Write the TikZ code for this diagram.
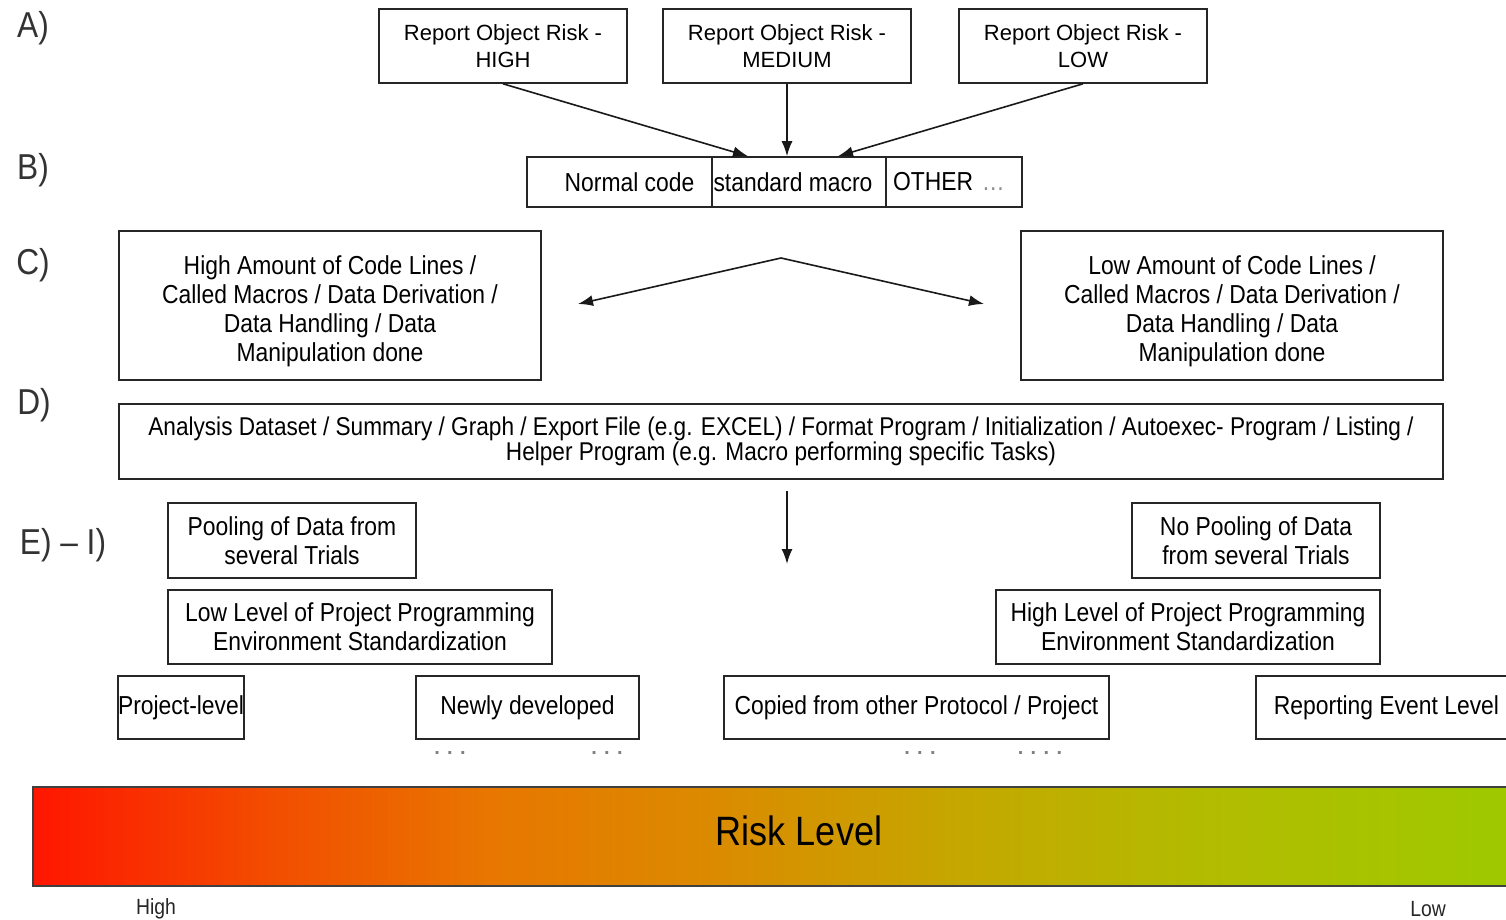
\documentclass[tikz,border=0pt]{standalone}
\usepackage{fontspec}
\setmainfont{Liberation Sans}
\newfontfamily\narrowfont{Liberation Sans}[FakeStretch=0.88]
\usetikzlibrary{arrows.meta,calc}
\definecolor{rk0}{RGB}{255,22,0}
\definecolor{rk1}{RGB}{242,78,0}
\definecolor{rk2}{RGB}{232,118,0}
\definecolor{rk3}{RGB}{218,140,0}
\definecolor{rk4}{RGB}{196,168,0}
\definecolor{rk5}{RGB}{178,188,0}
\definecolor{rk6}{RGB}{160,200,0}
\pgfdeclarehorizontalshading{riskshade}{100bp}{color(0bp)=(rk0); color(25bp)=(rk0); color(33bp)=(rk1); color(40bp)=(rk2); color(48bp)=(rk3); color(56bp)=(rk4); color(64bp)=(rk5); color(73bp)=(rk6); color(100bp)=(rk6)}
\tikzset{
  box/.style={draw=black!85, line width=1.6pt, inner sep=0pt, align=center, fill=white},
  atext/.style={font=\fontsize{22pt}{27pt}\selectfont},
  ntext/.style={font=\narrowfont\fontsize{26pt}{29pt}\selectfont},
  dtext/.style={font=\narrowfont\fontsize{25.7pt}{21pt}\selectfont},
  lbl/.style={font=\narrowfont\fontsize{36pt}{40pt}\selectfont, text=black!80, inner sep=0pt},
  dots/.style={font=\bfseries\fontsize{20pt}{20pt}\selectfont, text=black!50, inner sep=0pt},
  arr/.style={-{Latex[length=15pt,width=11pt]}, line width=1.6pt, draw=black!90},
}
\begin{document}
\begin{tikzpicture}[x=1pt,y=-1pt]
\useasboundingbox (0,0) rectangle (1506,920);
\fill[white] (0,0) rectangle (1506,920);

% section labels
\node[lbl] (la) at (33,28) {A)};
\node[lbl] (lb) at (33,170) {B)};
\node[lbl] (lc) at (33,265) {C)};
\node[lbl] (ld) at (34,405) {D)};
\node[lbl] (le) at (63,545) {E) – I)};

% A
\node[box, atext, minimum width=248pt, minimum height=74pt] (high) at (503,46) {Report Object Risk -\\HIGH};
\node[box, atext, minimum width=248pt, minimum height=74pt] (med) at (787,46) {Report Object Risk -\\MEDIUM};
\node[box, atext, minimum width=248pt, minimum height=74pt] (low) at (1083,46) {Report Object Risk -\\LOW};

% B
\node[box, ntext, minimum width=185pt, minimum height=50pt] (nc) at (619.5,182) {\hspace*{20pt}Normal code};
\node[box, ntext, minimum width=174pt, minimum height=50pt] (sm) at (799,182) {standard macro\hspace*{12pt}};
\node[box, ntext, minimum height=50pt, text width=122pt, inner xsep=7pt, align=left] (ot) at (954,182) {OTHER {\color{black!45}\ldots}};

\draw[arr] (high.south) -- ([xshift=-51pt]sm.north);
\draw[arr] (med.south) -- (med.south |- sm.north);
\draw[arr] (low.south) -- ([xshift=39pt]sm.north);

% C
\node[box, ntext, minimum width=422pt, minimum height=149pt] (chigh) at (330,305.5) {\rule{0pt}{30pt}High Amount of Code Lines /\\Called Macros / Data Derivation /\\Data Handling / Data\\Manipulation done};
\node[box, ntext, minimum width=422pt, minimum height=149pt] (clow) at (1232,305.5) {\rule{0pt}{30pt}Low Amount of Code Lines /\\Called Macros / Data Derivation /\\Data Handling / Data\\Manipulation done};
\coordinate (apex) at (781,258);
\coordinate (cl) at (578,304);
\coordinate (cr) at (984,304);
\draw[arr] (apex) -- (cl);
\draw[arr] (apex) -- (cr);

% D
\node[box, dtext, minimum width=1324pt, minimum height=75pt] (dbox) at (781,441.5) {Analysis Dataset / Summary / Graph / Export File (e.g. EXCEL) / Format Program / Initialization / Autoexec- Program / Listing /\\Helper Program (e.g. Macro performing specific Tasks)};

\coordinate (ds) at (787,491);
\coordinate (de) at (787,564);
\draw[arr] (ds) -- (de);

% E - I
\node[box, ntext, minimum width=248pt, minimum height=75pt] (pool) at (292,540.5) {Pooling of Data from\\several Trials};
\node[box, ntext, minimum width=248pt, minimum height=75pt] (nopool) at (1256,540.5) {No Pooling of Data\\from several Trials};
\node[box, ntext, minimum width=384pt, minimum height=74pt] (lowlev) at (360,627) {Low Level of Project Programming\\Environment Standardization};
\node[box, ntext, minimum width=384pt, minimum height=74pt] (highlev) at (1188,627) {High Level of Project Programming\\Environment Standardization};

\node[box, ntext, minimum width=124pt, minimum height=63pt] (proj) at (181,707.5) {Project-level};
\node[box, ntext, minimum width=223pt, minimum height=63pt] (newly) at (527.5,707.5) {Newly developed};
\node[box, ntext, minimum width=385pt, minimum height=63pt] (copied) at (916.5,707.5) {Copied from other Protocol / Project};
\node[box, ntext, minimum width=261pt, minimum height=63pt] (rep) at (1386.5,707.5) {Reporting Event Level};

\node[dots] (d1) at (450,753) {. . .};
\node[dots] (d2) at (607,753) {. . .};
\node[dots] (d3) at (920,753) {. . .};
\node[dots] (d4) at (1040,753) {. . . .};

% risk bar
\shade[shading=riskshade, draw=black!75, line width=1.6pt] (33,787) rectangle (1540,886);
\node[font=\narrowfont\fontsize{41pt}{44pt}\selectfont, inner sep=0pt] (risk) at (799,831) {Risk Level};
\node[font=\narrowfont\fontsize{22pt}{24pt}\selectfont, text=black!85, inner sep=0pt] (hi) at (156,909) {High};
\node[font=\narrowfont\fontsize{22pt}{24pt}\selectfont, text=black!85, inner sep=0pt] (lo) at (1428,909) {Low};
\end{tikzpicture}
\end{document}
